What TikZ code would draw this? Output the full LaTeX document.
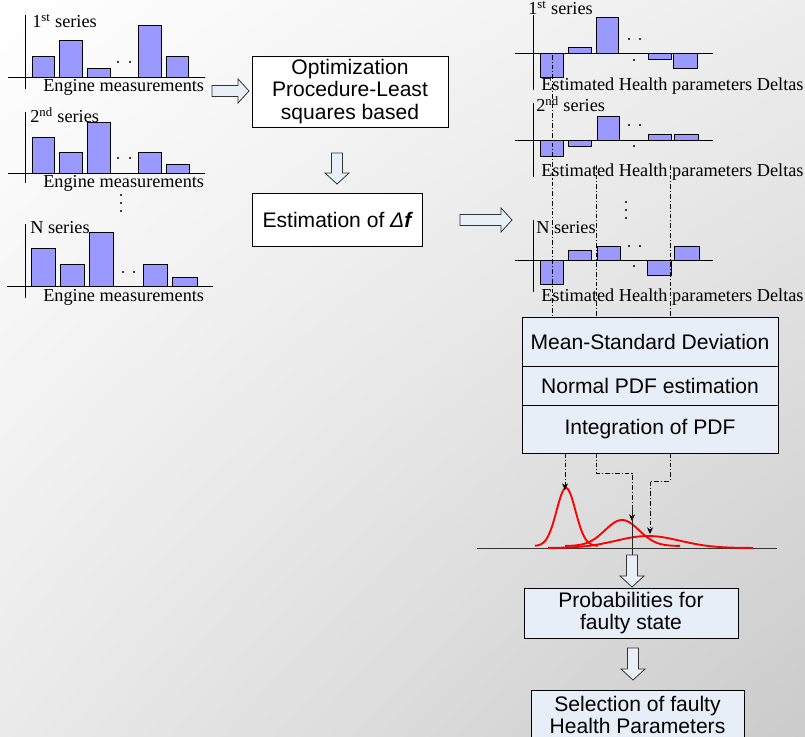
\documentclass[tikz,border=0pt]{standalone}
\usepackage{fontspec}
\setmainfont{Liberation Sans}
\newfontfamily\serf{Liberation Serif}
\usetikzlibrary{arrows.meta,shadings}
\definecolor{barfill}{HTML}{9999FF}
\definecolor{boxblue}{HTML}{E8EEF7}
\definecolor{arrowfill}{HTML}{E9EFF7}
\definecolor{bgtl}{HTML}{FFFFFF}
\definecolor{bgtr}{HTML}{EDEDED}
\definecolor{bgbl}{HTML}{EAEAEA}
\definecolor{bgbr}{HTML}{CBCBCB}
\begin{document}
\begin{tikzpicture}[x=0.75pt,y=-0.75pt,
  bar/.style={draw=black, line width=0.6pt, fill=barfill},
  ax/.style={draw=black, line width=0.7pt},
  lbl/.style={font=\serf\fontsize{13.7}{15}\selectfont, inner sep=0pt, anchor=base west},
  proc/.style={draw=black, line width=0.7pt, fill=white, align=center, inner sep=0pt, font=\fontsize{15.8}{16.6}\selectfont},
  procb/.style={proc, fill=boxblue},
  dd/.style={line width=0.6pt, dash pattern=on 3.5pt off 1.5pt on 0.8pt off 1.5pt},
  ddarrow/.style={dd, -{Stealth[length=5pt,width=4.5pt]}},
  gauss/.style={red, line width=1.4pt},
  harrowst/.style={draw=black!80, fill=arrowfill, line width=0.6pt, line join=miter},
  pics/hollow/.style={code={\path[harrowst] (0,-5.5) -- (#1-11,-5.5) -- (#1-11,-12) -- (#1,0) -- (#1-11,12) -- (#1-11,5.5) -- (0,5.5) -- cycle;}},
  dotm/.style={fill=black}
]
\useasboundingbox (0,0) rectangle (805,737);
\shade[upper left=bgtl, upper right=bgtr, lower left=bgbl, lower right=bgbr] (0,0) rectangle (805,737);

% ---------- left charts ----------
% chart 1
\draw[bar] (32,77) rectangle (54,56);
\draw[bar] (59,77) rectangle (82,40);
\draw[bar] (87,77) rectangle (110,68);
\draw[bar] (138,77) rectangle (161,25);
\draw[bar] (166,77) rectangle (188,56);
\draw[ax] (25,15) -- (25,89);
\draw[ax] (8,77) -- (205,77);
\fill[dotm] (118,62) circle (1.1) (130,62) circle (1.1);
\node[lbl] (l1s) at (32,28) {1\textsuperscript{st} series};
\node[lbl] (l1e) at (43,92) {Engine measurements};
% chart 2
\draw[bar] (32,173) rectangle (54,137);
\draw[bar] (59,173) rectangle (82,152);
\draw[bar] (87,173) rectangle (110,122);
\draw[bar] (138,173) rectangle (161,152);
\draw[bar] (166,173) rectangle (189,164);
\draw[ax] (25,112) -- (25,183);
\draw[ax] (8,173) -- (205,173);
\fill[dotm] (118,158) circle (1.1) (130,158) circle (1.1);
\node[lbl] (l2s) at (30,123) {2\textsuperscript{nd} series};
\node[lbl] (l2e) at (43,188) {Engine measurements};
% vertical dots
\fill[dotm] (121,195) circle (1.2) (121,203) circle (1.2) (121,211) circle (1.2);
% chart 3
\draw[bar] (31,286) rectangle (55,248);
\draw[bar] (60,286) rectangle (84,264);
\draw[bar] (89,286) rectangle (113,232);
\draw[bar] (143,286) rectangle (167,264);
\draw[bar] (172,286) rectangle (197,277);
\draw[ax] (25,224) -- (25,298);
\draw[ax] (7,286) -- (213,286);
\fill[dotm] (123,272) circle (1.1) (134,272) circle (1.1);
\node[lbl] (l3s) at (30,234) {N series};
\node[lbl] (l3e) at (43,301) {Engine measurements};

% ---------- middle ----------
\node[proc, minimum width=147pt, minimum height=53.25pt] (opt) at (350,91.5) {Optimization\\Procedure-Least\\squares based};
\node[proc, minimum width=127.5pt, minimum height=39.75pt] (est) at (337,219.5) {Estimation of {\itshape Δ\bfseries f}};
\pic at (212,91) {hollow=37};
\pic[rotate=-90] at (337,153) {hollow=31};
\pic at (460,220) {hollow=52};

% ---------- right charts ----------
% chart R1
\draw[bar] (540,53) rectangle (563,77);
\draw[bar] (568,53) rectangle (591,47);
\draw[bar] (596,53) rectangle (618,17);
\draw[bar] (648,53) rectangle (671,59);
\draw[bar] (673,53) rectangle (697,68);
\draw[ax] (533,15) -- (533,90);
\draw[ax] (515,53) -- (713,53);
\fill[dotm] (629,39) circle (1.1) (640,39) circle (1.1) (634,60) circle (1.1);
\node[lbl] (r1s) at (528,15) {1\textsuperscript{st} series};
\node[lbl] (r1e) at (541,91) {Estimated Health parameters Deltas};
% chart R2
\draw[bar] (540,140) rectangle (563,156);
\draw[bar] (568,140) rectangle (591,146);
\draw[bar] (597,140) rectangle (619,116);
\draw[bar] (648,140) rectangle (671,134);
\draw[bar] (674,140) rectangle (698,134);
\draw[ax] (533,103) -- (533,177);
\draw[ax] (515,140) -- (713,140);
\fill[dotm] (629,125) circle (1.1) (640,125) circle (1.1) (634,146) circle (1.1);
\node[lbl] (r2s) at (536,112) {2\textsuperscript{nd} series};
\node[lbl] (r2e) at (541,177) {Estimated Health parameters Deltas};
% vertical dots
\fill[dotm] (626,202) circle (1.2) (626,210) circle (1.2) (626,218) circle (1.2);
% chart R3
\draw[bar] (540,260) rectangle (563,284);
\draw[bar] (568,260) rectangle (591,250);
\draw[bar] (597,260) rectangle (620,246);
\draw[bar] (647,260) rectangle (671,275);
\draw[bar] (674,260) rectangle (699,246);
\draw[ax] (533,220) -- (533,292);
\draw[ax] (515,260) -- (713,260);
\fill[dotm] (629,246) circle (1.1) (640,246) circle (1.1) (634,266) circle (1.1);
\node[lbl] (r3s) at (536,234) {N series};
\node[lbl] (r3e) at (541,301) {Estimated Health parameters Deltas};

% ---------- statistics boxes ----------
\node[procb, minimum width=192pt, minimum height=36.75pt] (msd) at (650,341.5) {Mean-Standard Deviation};
\node[procb, minimum width=192pt, minimum height=29.25pt] (npdf) at (650,385.5) {Normal PDF estimation};
\node[procb, minimum width=192pt, minimum height=36pt] (ipdf) at (650,429) {Integration of PDF};

% dash-dot lines above
\coordinate (s1) at (552,55);
\coordinate (s2) at (596,165);
\coordinate (s3) at (670,165);
\draw[dd] (s1) -- (s1 |- msd.north);
\draw[dd] (s2) -- (s2 |- msd.north);
\draw[dd] (s3) -- (s3 |- msd.north);

% ---------- gaussians ----------
\coordinate (axL) at (477,548);
\coordinate (axR) at (777,548);
\draw[black!80, line width=0.7pt] (axL) -- (axR);
\draw[gauss] plot[domain=535:598, samples=70, smooth] (\x, {546-58*exp(-((\x-566)/9.5)^2/2)});
\draw[gauss] plot[domain=565:680, samples=70, smooth] (\x, {546-26*exp(-((\x-622)/17)^2/2)});
\draw[gauss] plot[domain=548:753, samples=80, smooth] (\x, {548-12*exp(-((\x-648)/32)^2/2)});
\coordinate (p1) at (565,490);
\coordinate (p2) at (632,521);
\coordinate (p3) at (650,534);
\coordinate (b1) at (565,453);
\coordinate (b2) at (596,453);
\coordinate (b3) at (670,453);
\draw[ddarrow] (b1) -- (p1);
\draw[ddarrow] (b2) -- (596,473) -- (632,473) -- (p2);
\draw[ddarrow] (b3) -- (670,481) -- (650,481) -- (p3);
\draw[black!85, line width=0.7pt] (632,505) -- (632,557);

% ---------- bottom ----------
\pic[rotate=-90] at (632,555) {hollow=32};
\node[procb, minimum width=160.5pt, minimum height=37.5pt] (prob) at (631,613) {Probabilities for\\faulty state};
\pic[rotate=-90] at (633,648) {hollow=32};
\node[procb, minimum width=159.75pt, minimum height=37.5pt] (sel) at (637.5,715) {Selection of faulty\\Health Parameters};
\end{tikzpicture}
\end{document}
